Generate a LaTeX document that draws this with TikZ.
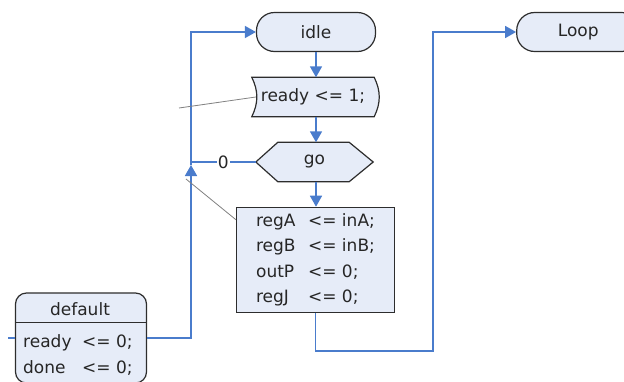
\documentclass[tikz,border=0pt]{standalone}
\usepackage{fontspec}
\setmainfont{DejaVu Sans}
\usetikzlibrary{arrows.meta,backgrounds}
\definecolor{flowblue}{RGB}{74,124,204}
\definecolor{nodefill}{RGB}{230,236,248}
\definecolor{edgegray}{RGB}{45,45,45}
\definecolor{notegray}{RGB}{128,128,128}
\newcommand{\asgn}[3]{\makebox[#1][l]{#2}<= #3}

\begin{document}
\begin{tikzpicture}[
    x=1pt, y=1pt,
    every node/.style={font=\fontsize{17}{25.5}\selectfont, text=black!85},
    border/.style={draw=edgegray, line width=1.2pt},
    terminal/.style={border, fill=nodefill, rounded corners=18pt, minimum width=119pt, minimum height=39pt},
    procbox/.style={border, fill=nodefill, minimum width=158pt, minimum height=105pt},
    bare/.style={inner sep=0pt},
    flow/.style={draw=flowblue, line width=1.6pt, -{Triangle[width=12pt,length=11pt]}},
    wire/.style={draw=flowblue, line width=1.6pt},
    note/.style={draw=notegray, line width=0.8pt}
]
\clip (0,0) rectangle (624,-381);
\node (idle) [terminal] at (316,-32) {idle};
\node (loop) [terminal, minimum width=123pt] at (578.2,-32) {Loop};
\node (ready) [minimum width=122pt, minimum height=39pt] at (313,-97) {ready <= 1;};
\node (go) [minimum width=117pt, minimum height=39pt] at (314.5,-162) {go};
\node (regs) [procbox, align=left] at (315.5,-259.8)
    {\asgn{52pt}{regA}{inA;}\\\asgn{52pt}{regB}{inB;}\\\asgn{52pt}{outP}{0;}\\\asgn{52pt}{regJ}{0;}};
\node (default) [border, fill=nodefill, rounded corners=11pt, minimum width=131pt, minimum height=90pt] at (81,-338) {};
\draw[border] ([yshift=-30pt]default.north west) -- ([yshift=-30pt]default.north east);
\node (defhead) at (80,-309) {default};
\node (defbody) [bare, anchor=west, align=left] at (23,-355)
    {\asgn{59pt}{ready}{0;}\\\asgn{59pt}{done}{0;}};

\begin{scope}[on background layer]
\draw[border, fill=nodefill] (ready.north west) to[bend left=26] (ready.south west)
    -- (ready.south east) to[bend right=26] (ready.north east) -- cycle;
\draw[border, fill=nodefill] (go.west) -- ([xshift=22pt]go.north west) -- ([xshift=-24pt]go.north east)
    -- (go.east) -- ([xshift=-24pt]go.south east) -- ([xshift=22pt]go.south west) -- cycle;
\end{scope}

\draw[flow] (idle.south) -- (ready.north -| idle.south);
\draw[flow] (ready.south -| idle.south) -- (go.north -| idle.south);
\draw[flow] (go.south -| idle.south) -- (regs.north -| idle.south);

\coordinate (bend) at (433,-351);
\draw[flow] (regs.south) |- (bend) |- (loop.west);

\coordinate (merge) at (191,-165);
\draw[flow] (default.east) -| (merge);
\draw[flow] (merge) |- (idle.west);
\draw[wire] (go.west) -- node[fill=white, inner sep=1pt] {0} (go.west -| merge);

\coordinate (entry) at (8,-338);
\draw[wire] (entry) -- (default.west);

\coordinate (note a) at (179,-108);
\draw[note] (note a) -- ([xshift=4pt]ready.west);
\coordinate (note b) at (186,-179);
\draw[note] (note b) -- ([yshift=-13pt]regs.north west);
\end{tikzpicture}
\end{document}
